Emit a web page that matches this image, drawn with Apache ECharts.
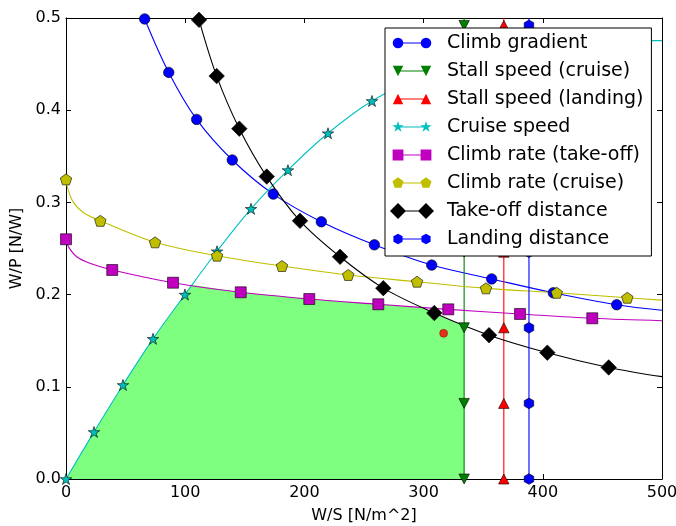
<!DOCTYPE html>
<html>
<head>
<meta charset="utf-8">
<script src="https://cdn.jsdelivr.net/npm/echarts@6/dist/echarts.min.js"></script>
<style>
html,body{margin:0;padding:0;background:#ffffff;}
#chart{width:676px;height:526px;}
</style>
</head>
<body>
<div id="chart"></div>
<script>
// ---------------- data ----------------
const xTicks = [0, 100, 200, 300, 400, 500];          // W/S [N/m^2]
const yTicks = [0.0, 0.1, 0.2, 0.3, 0.4, 0.5];        // W/P [N/W]
const xAxisTitle = 'W/S [N/m^2]';
const yAxisTitle = 'W/P [N/W]';

const seriesNames = [
  'Climb gradient', 'Stall speed (cruise)', 'Stall speed (landing)', 'Cruise speed',
  'Climb rate (take-off)', 'Climb rate (cruise)', 'Take-off distance', 'Landing distance'
];

// marker points [W/S, W/P]
const climbGradient = [[66,0.499],[86.2,0.441],[109.6,0.390],[139.5,0.346],[173.9,0.309],[214.2,0.279],[258.7,0.254],[306.8,0.232],[357.1,0.217],[408.8,0.202],[462,0.189]];
const climbGradientCurve = [[500,0.183]];

const cruiseSpeed = [[0,0],[23.5,0.051],[47.8,0.102],[73,0.152],[99.8,0.200],[126.7,0.247],[155.2,0.293],[186.2,0.335],[219.8,0.375],[256.7,0.410]];
const cruiseSpeedCurve = [[300,0.438],[350,0.457],[400,0.469],[450,0.4755],[500,0.4755]];

const climbRateTakeoff = [[0,0.260],[38.8,0.2267],[89.8,0.2129],[146.6,0.2025],[204.1,0.1952],[262,0.1895],[320.7,0.184],[380.9,0.179],[441.5,0.1743]];
const climbRateTakeoffCurve = [[2,0.252],[9,0.241],[20,0.234],[500,0.1717]];

const climbRateCruise = [[0,0.325],[28.8,0.280],[74.7,0.2567],[126.7,0.2422],[181.2,0.231],[236.8,0.2213],[294.5,0.214],[352.3,0.2068],[411.7,0.202],[470.9,0.1966]];
const climbRateCruiseCurve = [[1.5,0.315],[6.2,0.300],[14.5,0.289],[500,0.194]];

const takeoffDistance = [[111.6,0.498],[126.4,0.437],[145.4,0.380],[168.4,0.328],[196.3,0.280],[229.9,0.241],[266.2,0.207],[309,0.180],[354.9,0.156],[403.8,0.137],[455.3,0.121]];
const takeoffDistanceCurve = [[500,0.111]];

// vertical constraints
const stallCruiseWS = 334;
const stallLandingWS = 367.3;
const landingDistanceWS = 388.4;
const verticalMarkWP = [0, 0.082, 0.164, 0.246, 0.328, 0.410, 0.492];
const verticalTopWP = 0.5;

// feasible design space boundary and design point
const feasibleRegion = [[0,0],[23.5,0.051],[47.8,0.102],[73,0.152],[99.8,0.200],[106,0.2105],[146.6,0.2025],[204.1,0.1952],[262,0.1895],[300,0.1855],[317,0.175],[334,0.166]];
const designPoint = [[316.8,0.158]];

// ---------------- styling helpers ----------------
const FONT = 'DejaVu Sans';
const COLORS = {
  blue:'#0000ff', green:'#008000', red:'#ff0000', cyan:'#00bfbf',
  magenta:'#bf00bf', yellow:'#bfbf00', black:'#000000'
};

const UNIT = {
  star: (function(){ const p=[]; for(let i=0;i<10;i++){ const r=i%2===0?1:0.382; const a=-Math.PI/2+i*Math.PI/5; p.push([r*Math.cos(a), r*Math.sin(a)]);} return p; })(),
  pentagon: (function(){ const p=[]; for(let i=0;i<5;i++){ const a=-Math.PI/2+i*2*Math.PI/5; p.push([Math.cos(a), Math.sin(a)]);} return p; })(),
  hexagon: (function(){ const p=[]; for(let i=0;i<6;i++){ const a=-Math.PI/2+i*Math.PI/3; p.push([Math.cos(a), Math.sin(a)]);} return p; })(),
  rect: [[-1,-1],[1,-1],[1,1],[-1,1]],
  diamond: [[0,-1],[1,0],[0,1],[-1,0]],
  triUp: [[0,-1],[1,1],[-1,1]],
  triDown: [[0,1],[-1,-1],[1,-1]]
};
function poly(pts){ return 'M' + pts.map(p => p[0].toFixed(3) + ',' + p[1].toFixed(3)).join(' L') + ' Z'; }
function shapePath(kind, cx, cy, s){
  if (kind === 'circle') {
    return 'M' + (cx-s) + ',' + cy + ' A' + s + ',' + s + ' 0 1,1 ' + (cx+s) + ',' + cy +
           ' A' + s + ',' + s + ' 0 1,1 ' + (cx-s) + ',' + cy + ' Z';
  }
  return poly(UNIT[kind].map(p => [cx + p[0]*s, cy + p[1]*s]));
}
function seriesSymbol(kind){
  if (kind === 'circle') return 'circle';
  return 'path://' + shapePath(kind, 0, 0, 10);
}
function legendIcon(kind, half){
  // two markers joined by a line, inside a fixed 52 x 16 box
  return 'path://M0,0 M52,16 ' + shapePath(kind, 8, 8, half) + ' ' +
         shapePath(kind, 36, 8, half) + ' M8,7.5 L36,7.5 L36,8.5 L8,8.5 Z';
}

const markerEdge = { borderColor:'#000', borderWidth:0.6 };

function curveSeries(name, marks, extra, color, kind, size){
  const pts = marks.map(p => ({ value:p }))
    .concat(extra.map(p => ({ value:p, symbol:'none' })))
    .sort((a,b) => a.value[0] - b.value[0]);
  return {
    name: name, type:'line', data: pts,
    smooth: 0.35,
    symbol: seriesSymbol(kind), symbolSize: size,
    showSymbol:true, showAllSymbol:true,
    lineStyle:{ color:color, width:1.1 },
    itemStyle:Object.assign({ color:color }, markerEdge),
    emphasis:{ disabled:true }, z:3
  };
}
function verticalSeries(name, ws, color, kind, size){
  const pts = verticalMarkWP.map(v => ({ value:[ws, v] }));
  pts.push({ value:[ws, verticalTopWP], symbol:'none' });
  return {
    name: name, type:'line', data: pts, smooth:false,
    symbol: seriesSymbol(kind), symbolSize: size,
    showSymbol:true, showAllSymbol:true,
    lineStyle:{ color:color, width:1.1 },
    itemStyle:Object.assign({ color:color }, markerEdge),
    emphasis:{ disabled:true }, z:3
  };
}

const series = [
  {
    name:'feasible', type:'line', data: feasibleRegion, smooth:false,
    symbol:'none', lineStyle:{ width:0, color:'#7fff7f' },
    areaStyle:{ color:'#7fff7f', opacity:1 }, z:1, silent:true
  },
  curveSeries(seriesNames[0], climbGradient, climbGradientCurve, COLORS.blue, 'circle', 10.5),
  verticalSeries(seriesNames[1], stallCruiseWS, COLORS.green, 'triDown', [10.5, 10]),
  verticalSeries(seriesNames[2], stallLandingWS, COLORS.red, 'triUp', [10.5, 10]),
  curveSeries(seriesNames[3], cruiseSpeed, cruiseSpeedCurve, COLORS.cyan, 'star', [11.5, 11]),
  curveSeries(seriesNames[4], climbRateTakeoff, climbRateTakeoffCurve, COLORS.magenta, 'rect', 11),
  curveSeries(seriesNames[5], climbRateCruise, climbRateCruiseCurve, COLORS.yellow, 'pentagon', [11.5, 11]),
  curveSeries(seriesNames[6], takeoffDistance, takeoffDistanceCurve, COLORS.black, 'diamond', 15.5),
  verticalSeries(seriesNames[7], landingDistanceWS, COLORS.blue, 'hexagon', [9.5, 10.7]),
  {
    name:'design point', type:'scatter', data: designPoint,
    symbol:'circle', symbolSize:8,
    itemStyle:{ color:COLORS.red, borderColor:'#600', borderWidth:0.5 }, z:4, silent:true
  }
];

const legendKinds = [['circle',5.3],['triDown',5.2],['triUp',5.2],['star',6],['rect',5.4],['pentagon',5.8],['diamond',8],['hexagon',5.3]];

const axisCommon = {
  type:'value',
  axisLine:{ show:true, onZero:false, lineStyle:{ color:'#000', width:1 } },
  axisTick:{ show:true, inside:true, length:5, lineStyle:{ color:'#000', width:1 } },
  splitLine:{ show:false }
};
const labelFont = { fontFamily:FONT, fontSize:16, color:'#000' };

const option = {
  animation:false,
  backgroundColor:'#ffffff',
  grid:{ left:66, right:14, top:18, bottom:47, containLabel:false, outerBoundsMode:'none' },
  xAxis:[
    Object.assign({}, axisCommon, {
      position:'bottom', min:xTicks[0], max:xTicks[xTicks.length-1], interval:xTicks[1]-xTicks[0],
      axisLabel:Object.assign({ margin:6, formatter:v => String(v) }, labelFont),
      name:xAxisTitle, nameLocation:'middle', nameGap:29,
      nameTextStyle:{ fontFamily:FONT, fontSize:16, color:'#000' }
    }),
    Object.assign({}, axisCommon, {
      position:'top', min:xTicks[0], max:xTicks[xTicks.length-1], interval:xTicks[1]-xTicks[0],
      axisLabel:{ show:false }
    })
  ],
  yAxis:[
    Object.assign({}, axisCommon, {
      position:'left', min:yTicks[0], max:yTicks[yTicks.length-1], interval:0.1,
      axisLabel:Object.assign({ margin:5, formatter:v => v.toFixed(1) }, labelFont),
      name:yAxisTitle, nameLocation:'middle', nameGap:36,
      nameTextStyle:{ fontFamily:FONT, fontSize:16, color:'#000' }
    }),
    Object.assign({}, axisCommon, {
      position:'right', min:yTicks[0], max:yTicks[yTicks.length-1], interval:0.1,
      axisLabel:{ show:false }
    })
  ],
  legend:{
    show:true, orient:'vertical', left:385, top:28,
    data: seriesNames.map((n,i) => ({ name:n, icon:legendIcon(legendKinds[i][0], legendKinds[i][1]) })),
    itemWidth:52, itemHeight:16, itemGap:8,
    padding:[5, 8, 7, 5],
    backgroundColor:'#ffffff', borderColor:'#000000', borderWidth:1, borderRadius:0,
    itemStyle:{ borderWidth:0 },
    selectedMode:false,
    textStyle:{ fontFamily:FONT, fontSize:19, color:'#000', lineHeight:20 },
    z:10
  },
  series: series
};

const chart = echarts.init(document.getElementById('chart'), null, { renderer:'canvas' });
chart.setOption(option);
</script>
</body>
</html>
